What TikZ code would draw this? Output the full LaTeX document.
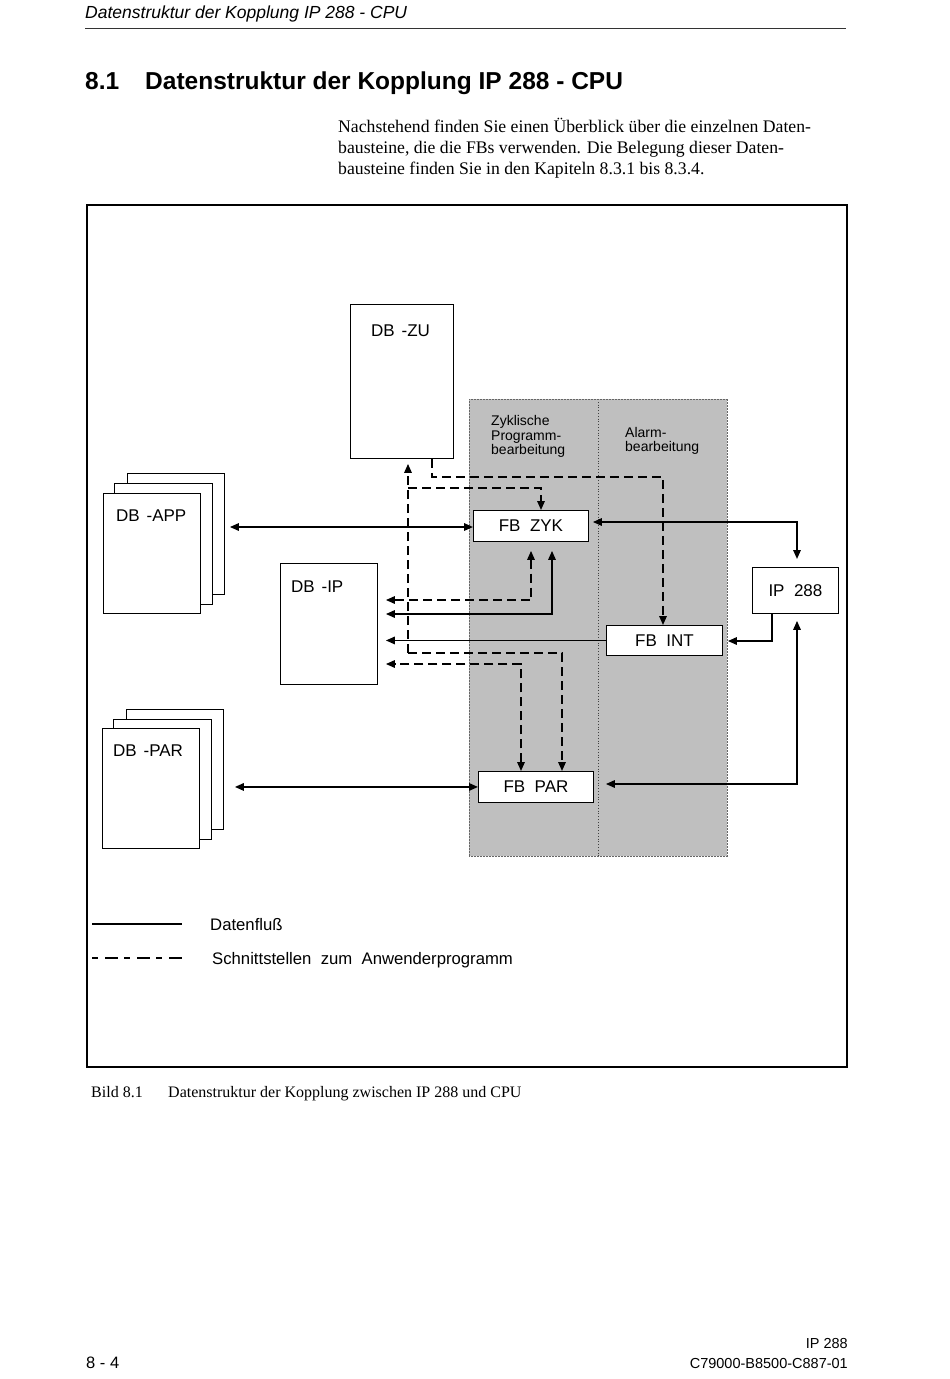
\documentclass[tikz,border=0pt]{standalone}
\usepackage{fontspec}
\setmainfont{Liberation Serif}
\setsansfont{Liberation Sans}
\usetikzlibrary{arrows.meta}
\begin{document}
\begin{tikzpicture}[x=1pt,y=-1pt,
  >={Triangle[length=9pt,width=7.5pt]},
  txt/.style={inner sep=0pt, anchor=base west},
  lbl/.style={inner sep=0pt, anchor=base west, font=\sffamily\fontsize{17}{20}\selectfont},
  small/.style={inner sep=0pt, anchor=base west, font=\sffamily\fontsize{14}{14.5}\selectfont},
  box/.style={draw, line width=0.9pt, fill=white, inner sep=0pt, anchor=north west},
  fbbox/.style={box, font=\sffamily\fontsize{17}{20}\selectfont},
  con/.style={line width=1.6pt},
  dcon/.style={line width=1.6pt, dash pattern=on 9pt off 5pt},
]
\useasboundingbox (0,0) rectangle (950,1379);
\fill[white] (0,0) rectangle (950,1379);

% page header
\node[txt, font=\sffamily\itshape\fontsize{17.5}{20}\selectfont] (hdr) at (85,18) {Datenstruktur der Kopplung IP 288 - CPU};
\coordinate (r1) at (85,28); \coordinate (r2) at (846,28);
\draw[line width=0.8pt, black!80] (r1) -- (r2);

% title
\node[txt, font=\sffamily\bfseries\fontsize{24.5}{28}\selectfont] (num) at (85,89) {8.1};
\node[txt, font=\sffamily\bfseries\fontsize{24.5}{28}\selectfont] (ttl) at (145,89) {Datenstruktur der Kopplung IP 288 - CPU};

% body text
\node[txt, font=\fontsize{17.7}{21}\selectfont] (b1) at (338,132) {Nachstehend finden Sie einen Überblick über die einzelnen Daten-};
\node[txt, font=\fontsize{17.7}{21}\selectfont] (b2) at (338,153) {bausteine, die die FBs verwenden. Die Belegung dieser Daten-};
\node[txt, font=\fontsize{17.7}{21}\selectfont] (b3) at (338,174) {bausteine finden Sie in den Kapiteln 8.3.1 bis 8.3.4.};

% frame
\node[draw, line width=1.5pt, inner sep=0pt, anchor=north west, minimum width=760, minimum height=862] (frame) at (86,204) {};

% shaded area
\node[anchor=north west, fill=black!25, inner sep=0pt, minimum width=258, minimum height=457] (shade) at (469,399) {};
\coordinate (dv) at (598,0);
\draw[dotted, line width=0.8pt, black!75] (shade.north -| dv) -- (shade.south -| dv);
\draw[densely dotted, line width=0.5pt, black!60] (shade.north west) rectangle (shade.south east);

\node[small] (z1) at (491,425) {Zyklische};
\node[small] (z2) at (491,440) {Programm-};
\node[small] (z3) at (491,454) {bearbeitung};
\node[small] (a1t) at (625,437) {Alarm-};
\node[small] (a2t) at (625,451) {bearbeitung};

% DB boxes
\node[box, minimum width=103, minimum height=154] (zu) at (350,304) {};
\node[lbl] (zul) at (371,336) {DB\hspace{0.4em}-ZU};

\node[box, minimum width=97, minimum height=121] (app3) at (127,473) {};
\node[box, minimum width=98, minimum height=121] (app2) at (114,483) {};
\node[box, minimum width=97, minimum height=120] (app1) at (103,493) {};
\node[lbl] (appl) at (116,521) {DB\hspace{0.4em}-APP};

\node[box, minimum width=97, minimum height=120] (dbpar3) at (126,709) {};
\node[box, minimum width=98, minimum height=120] (dbpar2) at (113,719) {};
\node[box, minimum width=97, minimum height=120] (dbpar1) at (102,728) {};
\node[lbl] (dbparl) at (113,756) {DB\hspace{0.4em}-PAR};

\node[box, minimum width=97, minimum height=121] (dbip) at (280,563) {};
\node[lbl] (dbipl) at (291,592) {DB\hspace{0.4em}-IP};

% FB boxes
\node[fbbox, minimum width=115, minimum height=31] (zyk) at (473,510) {FB\ \ ZYK};
\node[fbbox, minimum width=116, minimum height=30] (int) at (606,625) {FB\ \ INT};
\node[fbbox, minimum width=115, minimum height=31] (par) at (478,771) {FB\ \ PAR};
\node[fbbox, minimum width=86, minimum height=46] (ip) at (752,567) {IP\ \ 288};

% dashed interface connectors
\coordinate (f1) at (432,477);
\coordinate (f2) at (663,477);
\draw[dcon,->] (zu.south -| f1) -- (f1) -- (f2) -- (int.north -| f2);
\coordinate (g1) at (408,653);
\coordinate (g2) at (408,488);
\coordinate (zx) at (541,0);
\coordinate (px) at (562,0);
\draw[dcon,->,shorten >=5pt] (g1) -- (zu.south -| g1);
\draw[dcon,->] (g2) -| (zyk.north -| zx);
\draw[dcon,->] (g1) -| (par.north -| px);
\coordinate (h1) at (531,600);
\draw[dcon,<->,shorten <=9pt,shorten >=8pt] (zyk.south -| h1) -- (h1) -- (dbip.east |- h1);
\coordinate (k1) at (521,664);
\draw[dcon,<->,shorten >=8pt] (par.north -| k1) -- (k1) -- (dbip.east |- k1);

% solid data flow connectors
\coordinate (i1) at (552,614);
\draw[con,<->,shorten <=9pt,shorten >=8pt] (zyk.south -| i1) -- (i1) -- (dbip.east |- i1);
\draw[con,->,shorten >=8pt] (int.west) -- (int.west -| dbip.east);
\coordinate (aa) at (0,527);
\draw[con,<->,shorten >=5pt] (zyk.west |- aa) -- (app3.east |- aa);
\draw[con,<->,shorten >=11pt] (par.west) -- (par.west -| dbpar3.east);
\coordinate (c1) at (797,522);
\draw[con,<->,shorten <=4pt,shorten >=8pt] (zyk.east |- c1) -- (c1) -- (ip.north -| c1);
\coordinate (d1) at (772,641);
\draw[con,->,shorten >=5pt] (ip.south -| d1) -- (d1) -- (int.east |- d1);
\coordinate (e1) at (797,784);
\draw[con,<->,shorten <=7pt,shorten >=12pt] (ip.south -| e1) -- (e1) -- (par.east |- e1);

% legend
\coordinate (l1) at (92,924); \coordinate (l2) at (182,924);
\draw[con] (l1) -- (l2);
\node[txt, font=\sffamily\fontsize{16.7}{19}\selectfont] (lg1) at (210,930) {Datenfluß};
\coordinate (l3) at (92,958); \coordinate (l4) at (182,958);
\draw[con, dash pattern=on 6pt off 7pt on 13pt off 6pt] (l3) -- (l4);
\node[txt, font=\sffamily\fontsize{16.7}{19}\selectfont] (lg2) at (212,964) {Schnittstellen\ \ zum\ \ Anwenderprogramm};

% caption
\node[txt, font=\fontsize{16}{19}\selectfont] (cap1) at (91,1097) {Bild 8.1};
\node[txt, font=\fontsize{16}{19}\selectfont] (cap2) at (168,1097) {Datenstruktur der Kopplung zwischen IP 288 und CPU};

% footer
\node[inner sep=0pt, anchor=base east, font=\sffamily\fontsize{14.5}{17}\selectfont] (ft1) at (848,1348) {IP 288};
\node[inner sep=0pt, anchor=base east, font=\sffamily\fontsize{14.5}{17}\selectfont] (ft2) at (848,1368) {C79000-B8500-C887-01};
\node[txt, font=\sffamily\fontsize{16.5}{19}\selectfont] (pg) at (86,1368) {8 - 4};
\end{tikzpicture}
\end{document}
